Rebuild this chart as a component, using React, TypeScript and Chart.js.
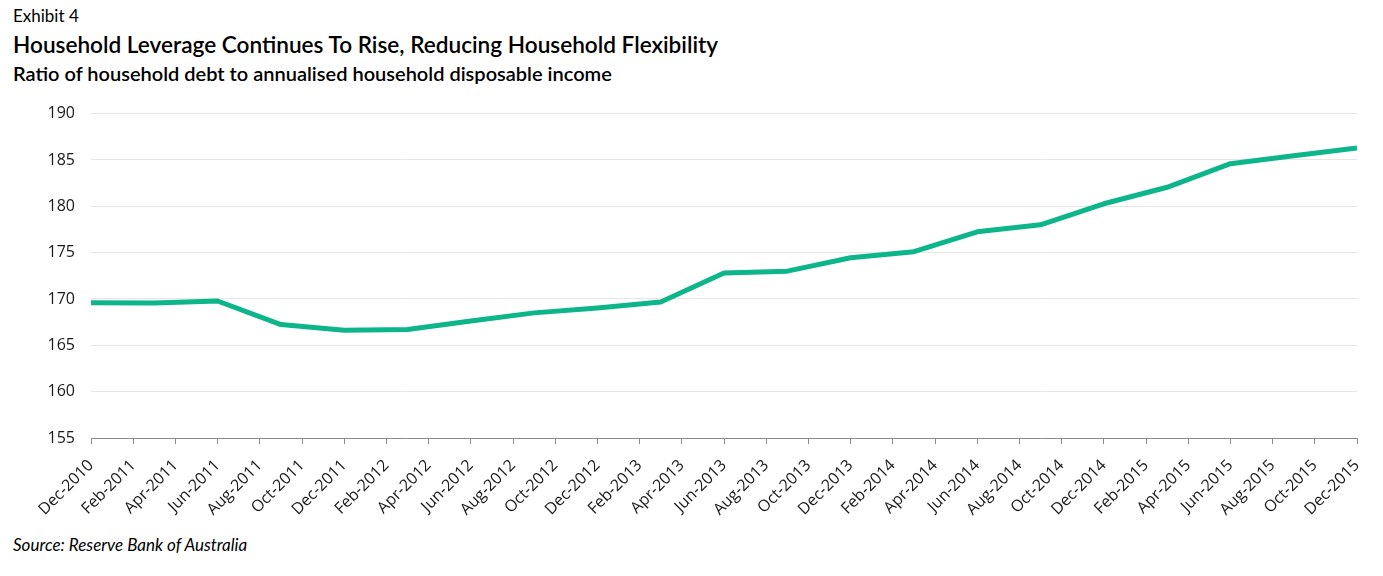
import React, { useEffect, useRef } from "react";
import { Chart, registerables } from "chart.js";

Chart.register(...registerables);

// Bimonthly tick labels on the x axis (every 2 months from Dec-2010)
const tickLabels = [
  "Dec-2010", "Feb-2011", "Apr-2011", "Jun-2011", "Aug-2011", "Oct-2011",
  "Dec-2011", "Feb-2012", "Apr-2012", "Jun-2012", "Aug-2012", "Oct-2012",
  "Dec-2012", "Feb-2013", "Apr-2013", "Jun-2013", "Aug-2013", "Oct-2013",
  "Dec-2013", "Feb-2014", "Apr-2014", "Jun-2014", "Aug-2014", "Oct-2014",
  "Dec-2014", "Feb-2015", "Apr-2015", "Jun-2015", "Aug-2015", "Oct-2015",
  "Dec-2015",
];

// Quarterly observations
const quarters = [
  "Dec-2010", "Mar-2011", "Jun-2011", "Sep-2011", "Dec-2011", "Mar-2012",
  "Jun-2012", "Sep-2012", "Dec-2012", "Mar-2013", "Jun-2013", "Sep-2013",
  "Dec-2013", "Mar-2014", "Jun-2014", "Sep-2014", "Dec-2014", "Mar-2015",
  "Jun-2015", "Sep-2015", "Dec-2015",
];

// Months since Dec-2010 for each quarter
const quarterMonths = [0, 3, 6, 9, 12, 15, 18, 21, 24, 27, 30, 33, 36, 39, 42, 45, 48, 51, 54, 57, 60];

const ratioValues = [
  169.6, 169.57, 169.78, 167.24, 166.63, 166.7,
  167.63, 168.5, 169.03, 169.67, 172.8, 173.0,
  174.45, 175.1, 177.25, 178.0, 180.27, 182.05,
  184.6, 185.45, 186.3,
];

const yTicks = [155, 160, 165, 170, 175, 180, 185, 190];

const CANVAS_TOP = 88;
const CANVAS_HEIGHT = 440;

export default function App() {
  const ref = useRef<HTMLCanvasElement | null>(null);

  useEffect(() => {
    document.body.style.margin = "0";
    const canvas = ref.current;
    if (!canvas) return;
    const points = quarterMonths.map((m, i) => ({ x: m, y: ratioValues[i] }));
    const chart = new Chart(canvas, {
      type: "line",
      data: {
        datasets: [
          {
            label: "Household debt to income",
            data: points,
            borderColor: "#0db58a",
            backgroundColor: "#0db58a",
            borderWidth: 5,
            pointRadius: 0,
            tension: 0,
            borderJoinStyle: "round",
          },
        ],
      },
      options: {
        animation: false,
        responsive: false,
        maintainAspectRatio: false,
        devicePixelRatio: 1,
        layout: { padding: { top: 15, right: 26, left: 0, bottom: 0 } },
        plugins: {
          legend: { display: false },
          title: { display: false },
          tooltip: { enabled: false },
        },
        scales: {
          x: {
            type: "linear",
            min: 0,
            max: 60,
            afterFit: (s: any) => {
              s.height = CANVAS_HEIGHT - (438 - CANVAS_TOP);
            },
            afterBuildTicks: (s: any) => {
              s.ticks = tickLabels.map((_, i) => ({ value: i * 2 }));
            },
            ticks: {
              autoSkip: false,
              maxRotation: 45,
              minRotation: 45,
              padding: 12,
              color: "#1a1a1a",
              font: { family: "'Open Sans'", size: 16 },
              callback: (v: any) => tickLabels[Math.round(Number(v) / 2)] ?? "",
            },
            grid: {
              drawOnChartArea: false,
              drawTicks: true,
              tickLength: 6,
              tickColor: "#8c8c8c",
            },
            border: { display: true, color: "#8c8c8c", width: 1 },
          },
          y: {
            min: 155,
            max: 190,
            afterFit: (s: any) => {
              s.width = 91;
            },
            afterBuildTicks: (s: any) => {
              s.ticks = yTicks.map((v) => ({ value: v }));
            },
            ticks: {
              padding: 16,
              color: "#1a1a1a",
              font: { family: "'Open Sans'", size: 16 },
            },
            grid: {
              drawTicks: false,
              color: (ctx: any) => (ctx.tick && ctx.tick.value === 155 ? "rgba(0,0,0,0)" : "#e6e6e6"),
              lineWidth: 1,
            },
            border: { display: false },
          },
        },
      },
    });
    return () => chart.destroy();
  }, []);

  const base: React.CSSProperties = {
    position: "absolute",
    left: 13,
    margin: 0,
    whiteSpace: "nowrap",
    color: "#000",
  };

  return (
    <div style={{ position: "relative", width: 1383, height: 576, background: "#fff", overflow: "hidden" }}>
      <div style={{ ...base, top: 6, fontFamily: "Lato, 'Noto Sans', sans-serif", fontSize: 17, lineHeight: "20px" }}>
        Exhibit 4
      </div>
      <div style={{ ...base, top: 31, fontFamily: "Lato, 'Noto Sans', sans-serif", fontSize: 22.6, fontWeight: 600, lineHeight: "28px" }}>
        Household Leverage Continues To Rise, Reducing Household Flexibility
      </div>
      <div style={{ ...base, top: 60, fontFamily: "Lato, 'Noto Sans', sans-serif", fontSize: 20, fontWeight: 600, lineHeight: "26px" }}>
        Ratio of household debt to annualised household disposable income
      </div>
      <canvas
        ref={ref}
        width={1383}
        height={CANVAS_HEIGHT}
        style={{ position: "absolute", left: 0, top: CANVAS_TOP, width: 1383, height: CANVAS_HEIGHT }}
      />
      <div style={{ ...base, top: 534, fontFamily: "Lato, 'Noto Sans', sans-serif", fontSize: 17, fontStyle: "italic", lineHeight: "22px" }}>
        Source: Reserve Bank of Australia
      </div>
    </div>
  );
}
